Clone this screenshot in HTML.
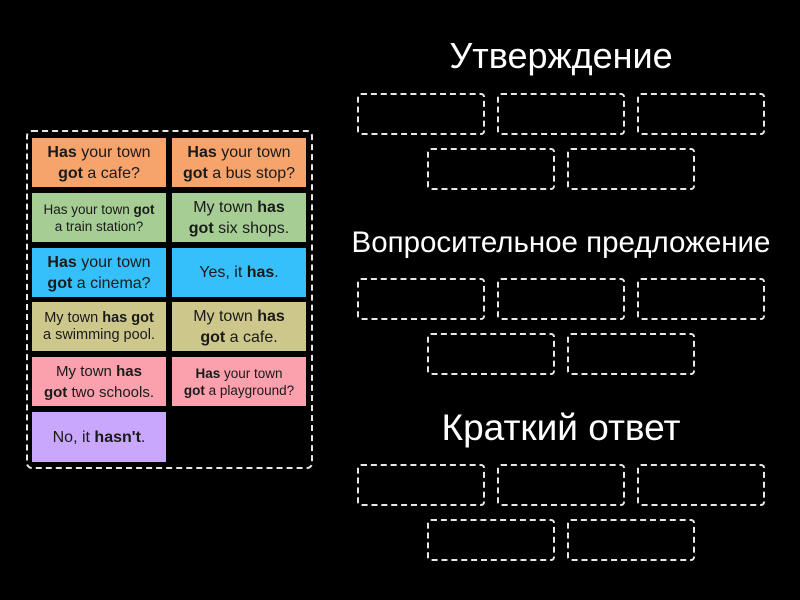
<!DOCTYPE html>
<html><head><meta charset="utf-8"><style>
body{margin:0;width:800px;height:600px;background:#000;position:relative;overflow:hidden;font-family:"Liberation Sans","DejaVu Sans",sans-serif;}
.c{position:absolute;width:134px;height:49px;display:flex;align-items:center;justify-content:center;text-align:center;color:#1a1a1a;font-size:16px;line-height:21px;}
.s{font-size:13.5px;line-height:17px;}
.box{position:absolute;width:124px;height:38px;border:2.5px dashed #e8e8e8;border-radius:4px;}
.t{position:absolute;left:340px;width:442px;text-align:center;color:#fff;white-space:nowrap;}
b{font-weight:bold}
</style></head><body>
<div style="position:absolute;left:26px;top:130px;width:283px;height:335px;border:2.5px dashed #e8e8e8;border-radius:6px;"></div>
<div class="c" style="left:32px;top:138px;background:#f6a36c"><span><b>Has</b> your town<br><b>got</b> a cafe?</span></div>
<div class="c" style="left:172px;top:138px;background:#f6a36c"><span><b>Has</b> your town<br><b>got</b> a bus stop?</span></div>
<div class="c s" style="left:32px;top:193px;background:#a6ce94"><span>Has your town <b>got</b><br>a train station?</span></div>
<div class="c" style="left:172px;top:193px;background:#a6ce94"><span>My town <b>has</b><br><b>got</b> six shops.</span></div>
<div class="c" style="left:32px;top:248px;background:#36c0fb"><span><b>Has</b> your town<br><b>got</b> a cinema?</span></div>
<div class="c" style="left:172px;top:248px;background:#36c0fb"><span>Yes, it <b>has</b>.</span></div>
<div class="c s" style="left:32px;top:302px;background:#cdc78b;font-size:14.5px"><span>My town <b>has got</b><br>a swimming pool.</span></div>
<div class="c" style="left:172px;top:302px;background:#cdc78b"><span>My town <b>has</b><br><b>got</b> a cafe.</span></div>
<div class="c" style="left:32px;top:357px;background:#fba0ad;font-size:15px"><span>My town <b>has</b><br><b>got</b> two schools.</span></div>
<div class="c s" style="left:172px;top:357px;background:#fba0ad"><span><b>Has</b> your town<br><b>got</b> a playground?</span></div>
<div class="c" style="left:32px;top:412px;height:50px;background:#c9a7fc"><span>No, it <b>hasn't</b>.</span></div>

<div class="t" style="top:35px;font-size:36px;line-height:42px">Утверждение</div>
<div class="t" style="top:226px;font-size:29.5px;line-height:34px">Вопросительное предложение</div>
<div class="t" style="top:407px;font-size:37px;line-height:42px">Краткий ответ</div>

<div class="box" style="left:357px;top:93px"></div><div class="box" style="left:497px;top:93px"></div><div class="box" style="left:637px;top:93px"></div>
<div class="box" style="left:427px;top:148px"></div><div class="box" style="left:567px;top:148px"></div>
<div class="box" style="left:357px;top:278px"></div><div class="box" style="left:497px;top:278px"></div><div class="box" style="left:637px;top:278px"></div>
<div class="box" style="left:427px;top:333px"></div><div class="box" style="left:567px;top:333px"></div>
<div class="box" style="left:357px;top:464px"></div><div class="box" style="left:497px;top:464px"></div><div class="box" style="left:637px;top:464px"></div>
<div class="box" style="left:427px;top:519px"></div><div class="box" style="left:567px;top:519px"></div>
</body></html>
